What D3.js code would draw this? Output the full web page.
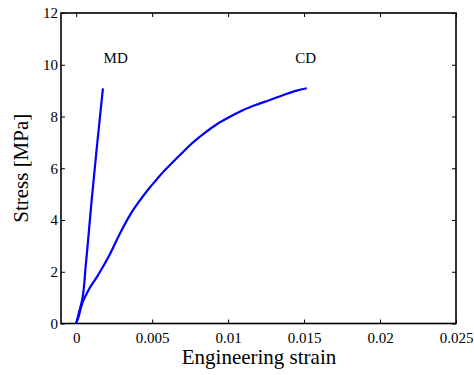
<!DOCTYPE html>
<html>
<head>
<meta charset="utf-8">
<script src="https://cdn.jsdelivr.net/npm/d3@7"></script>
<style>
  body { margin: 0; background: #fff; }
  text { font-family: "Liberation Serif", "DejaVu Serif", serif; fill: #000; }
</style>
</head>
<body>
<svg id="chart"></svg>
<script>
// MD curve (strain, stress in MPa)
const mdStrain = [0, 0.00018, 0.00039, 0.00062, 0.00102, 0.00134, 0.00155, 0.00176];
const mdStress = [0, 0.41, 0.91, 2.19, 4.77, 6.7, 7.9, 9.09];

// CD curve
const cdStrain = [0, 0.00022, 0.00033, 0.0007, 0.00145, 0.00213, 0.00289, 0.00355, 0.0041, 0.0047, 0.0052, 0.0058, 0.0063, 0.0069, 0.0075, 0.00838, 0.00926, 0.01013, 0.011, 0.01189, 0.01276, 0.01364, 0.01452, 0.01518];
const cdStress = [0, 0.39, 0.65, 1.17, 1.88, 2.58, 3.49, 4.2, 4.68, 5.15, 5.5, 5.9, 6.2, 6.55, 6.9, 7.33, 7.7, 7.99, 8.25, 8.46, 8.64, 8.83, 9.0, 9.09];

const labelText = ["MD", "CD"];
const labelStrain = [0.0026, 0.0151];
const labelStress = [10.05, 10.05];

const xTicks = [0, 0.005, 0.01, 0.015, 0.02, 0.025];
const xTickLabels = ["0", "0.005", "0.01", "0.015", "0.02", "0.025"];
const yTicks = [0, 2, 4, 6, 8, 10, 12];

const width = 474;
const height = 375;
const MARGINS = { top: 13, right: 18, bottom: 51.5, left: 61 };

const svg = d3.select("#chart").attr("width", width).attr("height", height);

const x = d3.scaleLinear()
  .domain([-0.001, 0.025])
  .range([MARGINS.left, width - MARGINS.right]);

const y = d3.scaleLinear()
  .domain([0, 12])
  .range([height - MARGINS.bottom, MARGINS.top]);

const tickLen = 4;
const serif = '"Liberation Serif", "DejaVu Serif", serif';

// axes: bottom/left with labels, top/right ticks only (inward)
svg.append("g")
  .attr("transform", `translate(0, ${y(0)})`)
  .call(d3.axisBottom(x).tickValues(xTicks).tickFormat((d, i) => xTickLabels[i])
    .tickSizeInner(-tickLen).tickSizeOuter(0).tickPadding(9))
  .call(g => g.select(".domain").remove())
  .attr("font-family", serif)
  .attr("font-size", 15);

svg.append("g")
  .attr("transform", `translate(${x(-0.001)}, 0)`)
  .call(d3.axisLeft(y).tickValues(yTicks).tickFormat(d3.format("d"))
    .tickSizeInner(-tickLen).tickSizeOuter(0).tickPadding(3))
  .call(g => g.select(".domain").remove())
  .attr("font-family", serif)
  .attr("font-size", 15);

svg.append("g")
  .attr("transform", `translate(0, ${y(12)})`)
  .call(d3.axisTop(x).tickValues(xTicks).tickFormat("").tickSizeInner(-tickLen).tickSizeOuter(0))
  .call(g => g.select(".domain").remove());

svg.append("g")
  .attr("transform", `translate(${x(0.025)}, 0)`)
  .call(d3.axisRight(y).tickValues(yTicks).tickFormat("").tickSizeInner(-tickLen).tickSizeOuter(0))
  .call(g => g.select(".domain").remove());

svg.selectAll(".tick line").attr("stroke", "#000").attr("stroke-width", 1);

// box
svg.append("rect")
  .attr("x", x(-0.001))
  .attr("y", y(12))
  .attr("width", x(0.025) - x(-0.001))
  .attr("height", y(0) - y(12))
  .attr("fill", "none")
  .attr("stroke", "#000")
  .attr("stroke-width", 1.6);

const md = mdStrain.map((s, i) => [s, mdStress[i]]);
const cd = cdStrain.map((s, i) => [s, cdStress[i]]);

svg.append("path")
  .datum(md)
  .attr("d", d3.line().x(d => x(d[0])).y(d => y(d[1])).curve(d3.curveMonotoneY))
  .attr("fill", "none")
  .attr("stroke", "#0000ff")
  .attr("stroke-width", 2.2);

svg.append("path")
  .datum(cd)
  .attr("d", d3.line().x(d => x(d[0])).y(d => y(d[1])).curve(d3.curveMonotoneX))
  .attr("fill", "none")
  .attr("stroke", "#0000ff")
  .attr("stroke-width", 2.2);

svg.selectAll(".lbl")
  .data(labelText)
  .join("text")
  .attr("class", "lbl")
  .attr("x", (d, i) => x(labelStrain[i]))
  .attr("y", (d, i) => y(labelStress[i]))
  .attr("text-anchor", "middle")
  .attr("font-size", 15)
  .text(d => d);

svg.append("text")
  .attr("x", 259)
  .attr("y", 364)
  .attr("text-anchor", "middle")
  .attr("font-size", 21)
  .text("Engineering strain");

svg.append("text")
  .attr("transform", `translate(28, ${(y(0) + y(12)) / 2}) rotate(-90)`)
  .attr("text-anchor", "middle")
  .attr("font-size", 21)
  .text("Stress [MPa]");
</script>
</body>
</html>
